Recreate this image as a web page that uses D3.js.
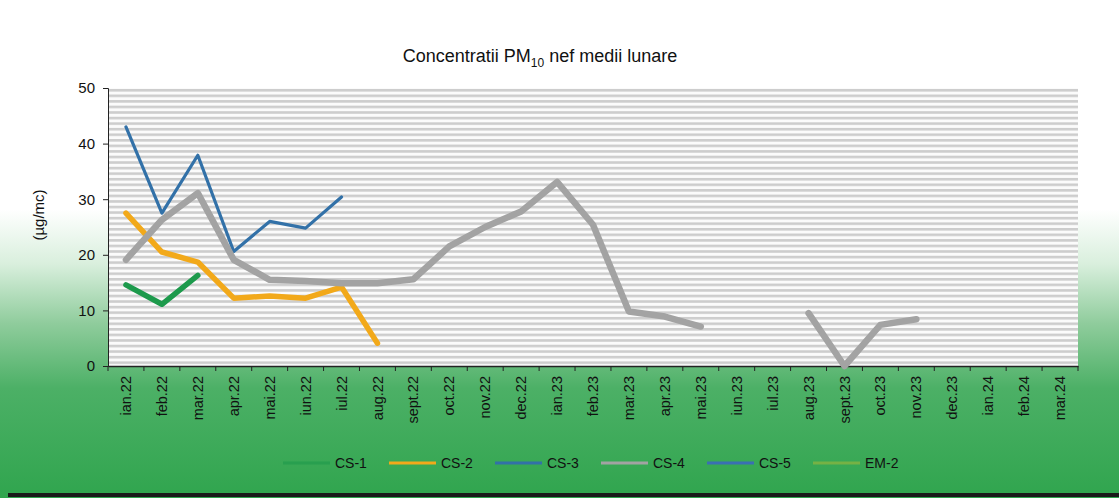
<!DOCTYPE html>
<html>
<head>
<meta charset="utf-8">
<script src="https://cdn.jsdelivr.net/npm/d3@7"></script>
<style>
  body { margin: 0; background: #fff; }
  svg { display: block; font-family: "Liberation Sans", Arial, sans-serif; }
</style>
</head>
<body>
<svg id="chart" width="1119" height="498"></svg>
<script>
const months = ["ian.22","feb.22","mar.22","apr.22","mai.22","iun.22","iul.22","aug.22","sept.22","oct.22","nov.22","dec.22",
  "ian.23","feb.23","mar.23","apr.23","mai.23","iun.23","iul.23","aug.23","sept.23","oct.23","nov.23","dec.23",
  "ian.24","feb.24","mar.24"]
const yTicks = [0, 10, 20, 30, 40, 50]

// null = no measurement
const cs1 = [14.6, 11.1, 16.3]
const cs2 = [27.5, 20.5, 18.7, 12.2, 12.6, 12.2, 14.2, 4.1]
const cs3 = [43.0, 27.5, 37.9, 20.6, 26.0, 24.8, 30.4]
const cs4 = [19.1, 26.3, 31.1, 19.1, 15.5, 15.3, 14.9, 14.9, 15.6, 21.5, 25.0, 27.8,
  33.1, 25.4, 9.8, 8.9, 7.1, null, null, 9.5, 0, 7.4, 8.4]
const cs5 = []
const em2 = []

const seriesNames = ["CS-1", "CS-2", "CS-3", "CS-4", "CS-5", "EM-2"]
const seriesVals = [cs1, cs2, cs3, cs4, cs5, em2]
const colors = ["#1d9a4c", "#f2a91a", "#3271a8", "#a3a3a3", "#3a6fb3", "#9fb83a"]
const widths = [5.5, 5.5, 3.2, 6.5, 3.2, 3]

const svg = d3.select("#chart")
const W = 1119, H = 498
const m = {left: 108, right: 41, top: 88, bottom: 132}

const defs = svg.append("defs")
const grad = defs.append("linearGradient").attr("id", "bg").attr("x1", 0).attr("x2", 0).attr("y1", 0).attr("y2", 1)
grad.append("stop").attr("offset", "0.42").attr("stop-color", "#ffffff")
grad.append("stop").attr("offset", "0.53").attr("stop-color", "#d9efdd")
grad.append("stop").attr("offset", "0.65").attr("stop-color", "#8fcc9c")
grad.append("stop").attr("offset", "0.78").attr("stop-color", "#4cb066")
grad.append("stop").attr("offset", "1").attr("stop-color", "#30a54e")

const pat = defs.append("pattern").attr("id", "stripes").attr("patternUnits", "userSpaceOnUse")
  .attr("width", 10).attr("height", 5.56)
pat.append("rect").attr("width", 10).attr("height", 5.56).attr("fill", "#fbfbfb")
pat.append("rect").attr("y", 0).attr("width", 10).attr("height", 2.6).attr("fill", "#cdcdcd")

svg.append("rect").attr("width", W).attr("height", H).attr("fill", "url(#bg)")
svg.append("line").attr("x1", 8).attr("x2", W).attr("y1", 495).attr("y2", 495)
  .attr("stroke", "#1a1a1a").attr("stroke-width", 4)

const x = d3.scaleBand().domain(months).range([m.left, W - m.right])
const y = d3.scaleLinear().domain([0, 50]).range([H - m.bottom, m.top])

svg.append("rect")
  .attr("x", m.left).attr("y", y(50))
  .attr("width", W - m.right - m.left).attr("height", y(0) - y(50))
  .attr("fill", "url(#stripes)")

// title
const title = svg.append("text").attr("x", 540).attr("y", 62).attr("text-anchor", "middle")
  .attr("font-size", 18).attr("fill", "#111")
title.append("tspan").text("Concentratii PM")
title.append("tspan").attr("font-size", 12).attr("dy", 5).text("10")
title.append("tspan").attr("dy", -5).text(" nef medii lunare")

// y axis
const yAxis = svg.append("g").attr("transform", `translate(${m.left},0)`)
  .call(d3.axisLeft(y).tickValues(yTicks).tickSize(5).tickPadding(8))
yAxis.selectAll("text").attr("font-size", 15).attr("fill", "#111")
yAxis.selectAll("line, path").attr("stroke", "#222")

svg.append("text").attr("transform", "translate(44,215) rotate(-90)")
  .attr("text-anchor", "middle").attr("font-size", 15).attr("fill", "#111").text("(µg/mc)")

// x axis
const xAxis = svg.append("g").attr("transform", `translate(0,${y(0)})`)
  .call(d3.axisBottom(x).tickSize(0).tickPadding(0))
xAxis.select("path").attr("stroke", "#222").attr("stroke-width", 1.5)
xAxis.selectAll("text")
  .attr("transform", "rotate(-90)")
  .attr("text-anchor", "end")
  .attr("x", -10).attr("y", 0).attr("dy", "0.35em")
  .attr("font-size", 14.5).attr("fill", "#111")
xAxis.selectAll(".sep")
  .data(d3.range(months.length + 1))
  .join("line")
  .attr("class", "sep")
  .attr("x1", i => m.left + i * x.step()).attr("x2", i => m.left + i * x.step())
  .attr("y1", 0).attr("y2", 5).attr("stroke", "#222")

// lines
const line = d3.line()
  .defined(d => d != null)
  .x((d, i) => x(months[i]) + x.bandwidth() / 2)
  .y(d => y(d))

seriesVals.forEach((vals, i) => {
  if (!vals.length) return
  svg.append("path")
    .datum(vals)
    .attr("d", line)
    .attr("fill", "none")
    .attr("stroke", colors[i])
    .attr("stroke-width", widths[i])
    .attr("stroke-linejoin", "round")
    .attr("stroke-linecap", "round")
})

// legend
const leg = svg.append("g").attr("transform", "translate(283,463)")
seriesNames.forEach((name, i) => {
  const g = leg.append("g").attr("transform", `translate(${i * 106},0)`)
  g.append("line").attr("x1", 0).attr("x2", 47).attr("y1", 0).attr("y2", 0)
    .attr("stroke", colors[i]).attr("stroke-width", 3).attr("opacity", i === 0 || i === 5 ? 0.6 : 1)
  g.append("text").attr("x", 52).attr("y", 0).attr("dy", "0.35em")
    .attr("font-size", 14).attr("fill", "#111").text(name)
})
</script>
</body>
</html>
